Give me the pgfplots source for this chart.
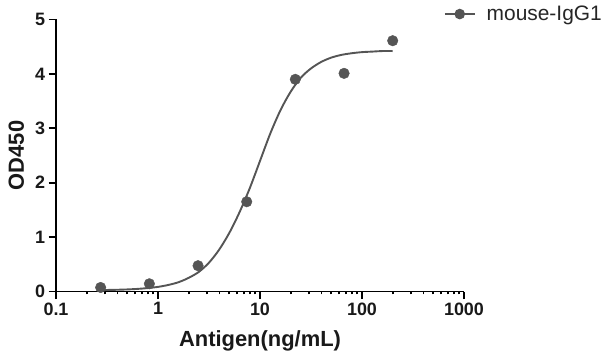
\documentclass[border=0pt]{standalone}
\usepackage{fontspec}
\setmainfont{Liberation Sans}
\usepackage{pgfplots}
\pgfplotsset{compat=1.18}
\definecolor{ptc}{HTML}{555555}
\begin{document}
\begin{tikzpicture}
\path[use as bounding box] (0bp,0bp) rectangle (616bp,360bp);
\begin{axis}[
  at={(56bp,68.5bp)}, anchor=south west,
  scale only axis, width=408bp, height=272bp,
  xmode=log, xmin=0.1, xmax=1000, ymin=0, ymax=5,
  axis x line=bottom, axis y line=left,
  axis line style={-, line width=1.8bp, black},
  xtick={0.1,1,10,100,1000}, xticklabels={0.1,1,10,100,1000},
  minor xtick={},
  ytick={0,1,2,3,4,5},
  tick align=outside, major tick length=7.5bp,
  tick style={line width=1.8bp, black},
  /pgf/number format/assume math mode=true,
  ticklabel style={font=\fontsize{18}{20}\selectfont\bfseries, text=black!90},
  xlabel={Antigen(ng/mL)}, ylabel={OD450},
  label style={font=\fontsize{22}{26}\selectfont\bfseries, text=black!90},
  xlabel style={at={(axis description cs:0.5,-0.182)}, anchor=center},
  ylabel style={at={(axis description cs:-0.097,0.5)}, anchor=center},
  clip=false,
  legend style={at={(axis description cs:0.95,1.02)}, anchor=west,
    draw=none, fill=none, inner sep=0pt, column sep=9bp,
    font=\fontsize{21}{24}\selectfont, text=black!85,
    legend image code/.code={\draw[mark repeat=2,mark phase=2,#1] plot coordinates {(0bp,0bp) (15bp,0bp) (30bp,0bp)};}},
]
\addplot[ptc, line width=1.9bp, smooth, forget plot] coordinates {
(0.269,0.026) (0.316,0.028) (0.398,0.032) (0.501,0.038) (0.631,0.048)
(0.794,0.063) (1,0.085) (1.259,0.12) (1.585,0.17) (1.995,0.25)
(2.512,0.36) (3.162,0.53) (3.981,0.77) (5.012,1.08) (6.310,1.46)
(7.943,1.90) (10,2.40) (12.59,2.90) (15.85,3.33) (19.95,3.67)
(25.12,3.93) (31.62,4.10) (39.81,4.22) (50.12,4.30) (63.10,4.35)
(79.43,4.38) (100,4.40) (125.9,4.41) (158.5,4.42) (199.5,4.42)};
\addplot[ptc, only marks, mark=*, mark size=5.3bp, forget plot] coordinates {
(0.274,0.074) (0.823,0.142) (2.47,0.474) (7.41,1.65) (22.2,3.90) (66.7,4.01) (200,4.61)};
\addlegendimage{ptc, line width=1.9bp, mark=*, mark size=4.3bp, mark options={solid}}
\addlegendentry{mouse-IgG1}
\end{axis}
\end{tikzpicture}
\end{document}
